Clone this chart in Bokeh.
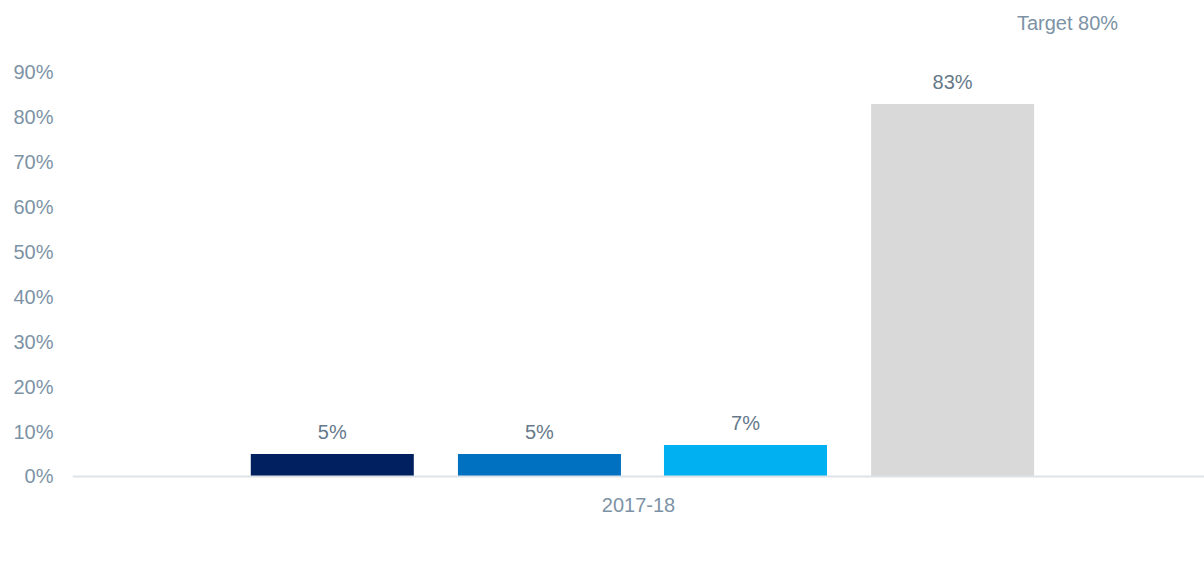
from bokeh.plotting import figure
from bokeh.models import ColumnDataSource, FactorRange, Range1d, NumeralTickFormatter, Legend, LegendItem, FixedTicker
from bokeh.transform import dodge
from bokeh.core.properties import value
from bokeh.embed import file_html
from bokeh.resources import INLINE

period = "2017-18"
responses = ["Don't Know", "Dissatisfied", "Neutral", "Satisfied"]
shares = [0.05, 0.05, 0.07, 0.83]
share_labels = ["5%", "5%", "7%", "83%"]
target_label = "Target 80%"
target_value = 0.80
y_ticks = [0, 0.1, 0.2, 0.3, 0.4, 0.5, 0.6, 0.7, 0.8, 0.9]

colors = ["#002060", "#0070C0", "#00B0F0", "#D9D9D9"]
offsets = [-0.2705, -0.0875, 0.0945, 0.2775]
FONT = "Liberation Sans"
AXIS_COLOR = "#7d93a5"
LABEL_COLOR = "#66798a"

p = figure(width=1204, height=564, frame_width=1132, frame_height=519,
           x_range=FactorRange(factors=[period], range_padding=0),
           y_range=Range1d(-0.1181, 1.038), output_backend="svg", toolbar_location=None,
           min_border_left=72, min_border_right=0, min_border_top=10, min_border_bottom=0)
p.outline_line_color = None
p.xgrid.visible = False
p.ygrid.visible = False

items = []
for i, r in enumerate(responses):
    src = ColumnDataSource(dict(cat=[period], val=[shares[i]], lab=[share_labels[i]]))
    rend = p.vbar(x=dodge("cat", offsets[i], range=p.x_range), top="val", bottom=0, width=0.144,
                  source=src, fill_color=colors[i], line_color=None)
    p.text(x=dodge("cat", offsets[i], range=p.x_range), y="val", text="lab", source=src,
           text_align="center", text_baseline="bottom", y_offset=-11,
           text_font=value(FONT), text_font_size="20px", text_color=LABEL_COLOR)
    items.append(LegendItem(label=r, renderers=[rend]))

tsrc = ColumnDataSource(dict(cat=[period], lab=[target_label], y=[target_value]))
p.text(x=dodge("cat", 0.379, range=p.x_range), y=1.011, text="lab", source=tsrc,
       text_align="center", text_baseline="middle",
       text_font=value(FONT), text_font_size="20px", text_color=AXIS_COLOR)

p.yaxis.ticker = FixedTicker(ticks=y_ticks)
p.yaxis.formatter = NumeralTickFormatter(format="0%")
p.yaxis.axis_line_color = None
p.yaxis.major_tick_line_color = None
p.yaxis.minor_tick_line_color = None
p.yaxis.major_label_standoff = 13
p.yaxis.major_label_text_font = FONT
p.yaxis.major_label_text_font_size = "20px"
p.yaxis.major_label_text_color = AXIS_COLOR

p.xaxis.fixed_location = 0
p.xaxis.axis_line_color = "#dde3e8"
p.xaxis.axis_line_width = 2
p.xaxis.major_tick_line_color = None
p.xaxis.minor_tick_line_color = None
p.xaxis.major_label_standoff = 16
p.xaxis.major_label_text_font = FONT
p.xaxis.major_label_text_font_size = "20px"
p.xaxis.major_label_text_color = AXIS_COLOR

legend = Legend(items=items, orientation="horizontal", location=(304, -27),
                border_line_color=None, background_fill_alpha=0,
                glyph_width=11, glyph_height=11, label_standoff=4, spacing=30,
                label_text_font=FONT, label_text_font_size="20px", label_text_color=AXIS_COLOR,
                padding=4, margin=0)
p.add_layout(legend, "below")

open("out.html", "w").write(file_html(p, INLINE))
